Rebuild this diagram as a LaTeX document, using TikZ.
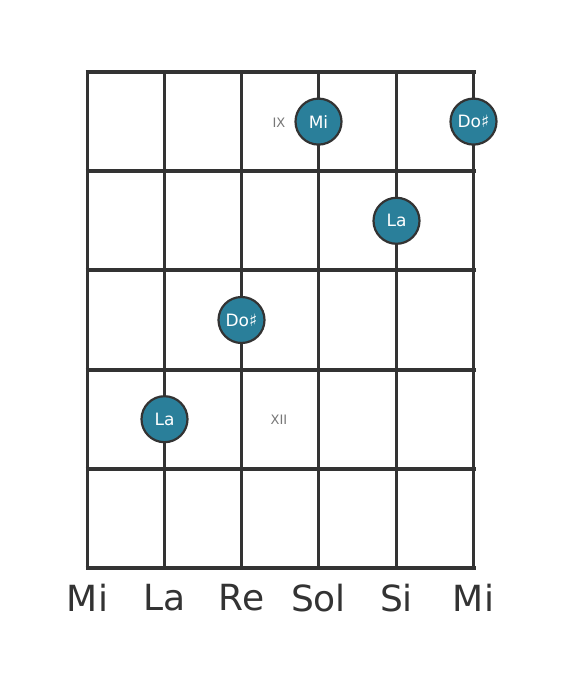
\documentclass[tikz,border=0pt]{standalone}
\usepackage{fontspec}
\setmainfont{DejaVu Sans}
\usepackage{xcolor}
\usetikzlibrary{positioning}
\definecolor{ink}{HTML}{333333}
\definecolor{dotfill}{HTML}{2A7F9A}
\definecolor{faint}{HTML}{777777}

\begin{document}
\begin{tikzpicture}[x=1pt,y=-1pt,
    fret/.style={draw=ink,line width=4pt},
    string/.style={draw=ink,line width=3pt},
    note/.style={circle,draw=ink,line width=2.2pt,fill=dotfill,minimum size=46pt,
      inner sep=0pt,text=white,font=\fontsize{17}{17}\selectfont},
    marker/.style={text=faint,font=\fontsize{13}{13}\selectfont},
    tuning/.style={text=ink,font=\fontsize{36}{36}\selectfont}]
      \useasboundingbox (0,0) rectangle (568,682);

      % strings and frets
      \foreach \x in {87.5,164.5,241.5,318.5,396.5,473.5}
        \draw[string] (\x,72) -- (\x,568);
      \foreach \y in {72,171,270,370,469,568}
        \draw[fret] (85.5,\y) -- (475.5,\y);

      \node[marker]                   (IX)  at (279,123)   {IX};
      \node[marker]                   (XII) at (279,420)   {XII};

      \node[note]                     (E1)  at (318.5,121.6) {Mi};
      \node[note]                     (C1)  at (473.5,121.6) {Do♯};
      \node[note]                     (A1)  at (396.5,220.8) {La};
      \node[note]                     (C2)  at (241.5,320)   {Do♯};
      \node[note]                     (A2)  at (164.5,419.2) {La};

      \node[tuning]                   (T1)  at (87.5,598)  {Mi};
      \node[tuning]                   (T2)  at (164.5,598) {La};
      \node[tuning]                   (T3)  at (241.5,598) {Re};
      \node[tuning]                   (T4)  at (318.5,598) {Sol};
      \node[tuning]                   (T5)  at (396.5,598) {Si};
      \node[tuning]                   (T6)  at (473.5,598) {Mi};
    \end{tikzpicture}
\end{document}
